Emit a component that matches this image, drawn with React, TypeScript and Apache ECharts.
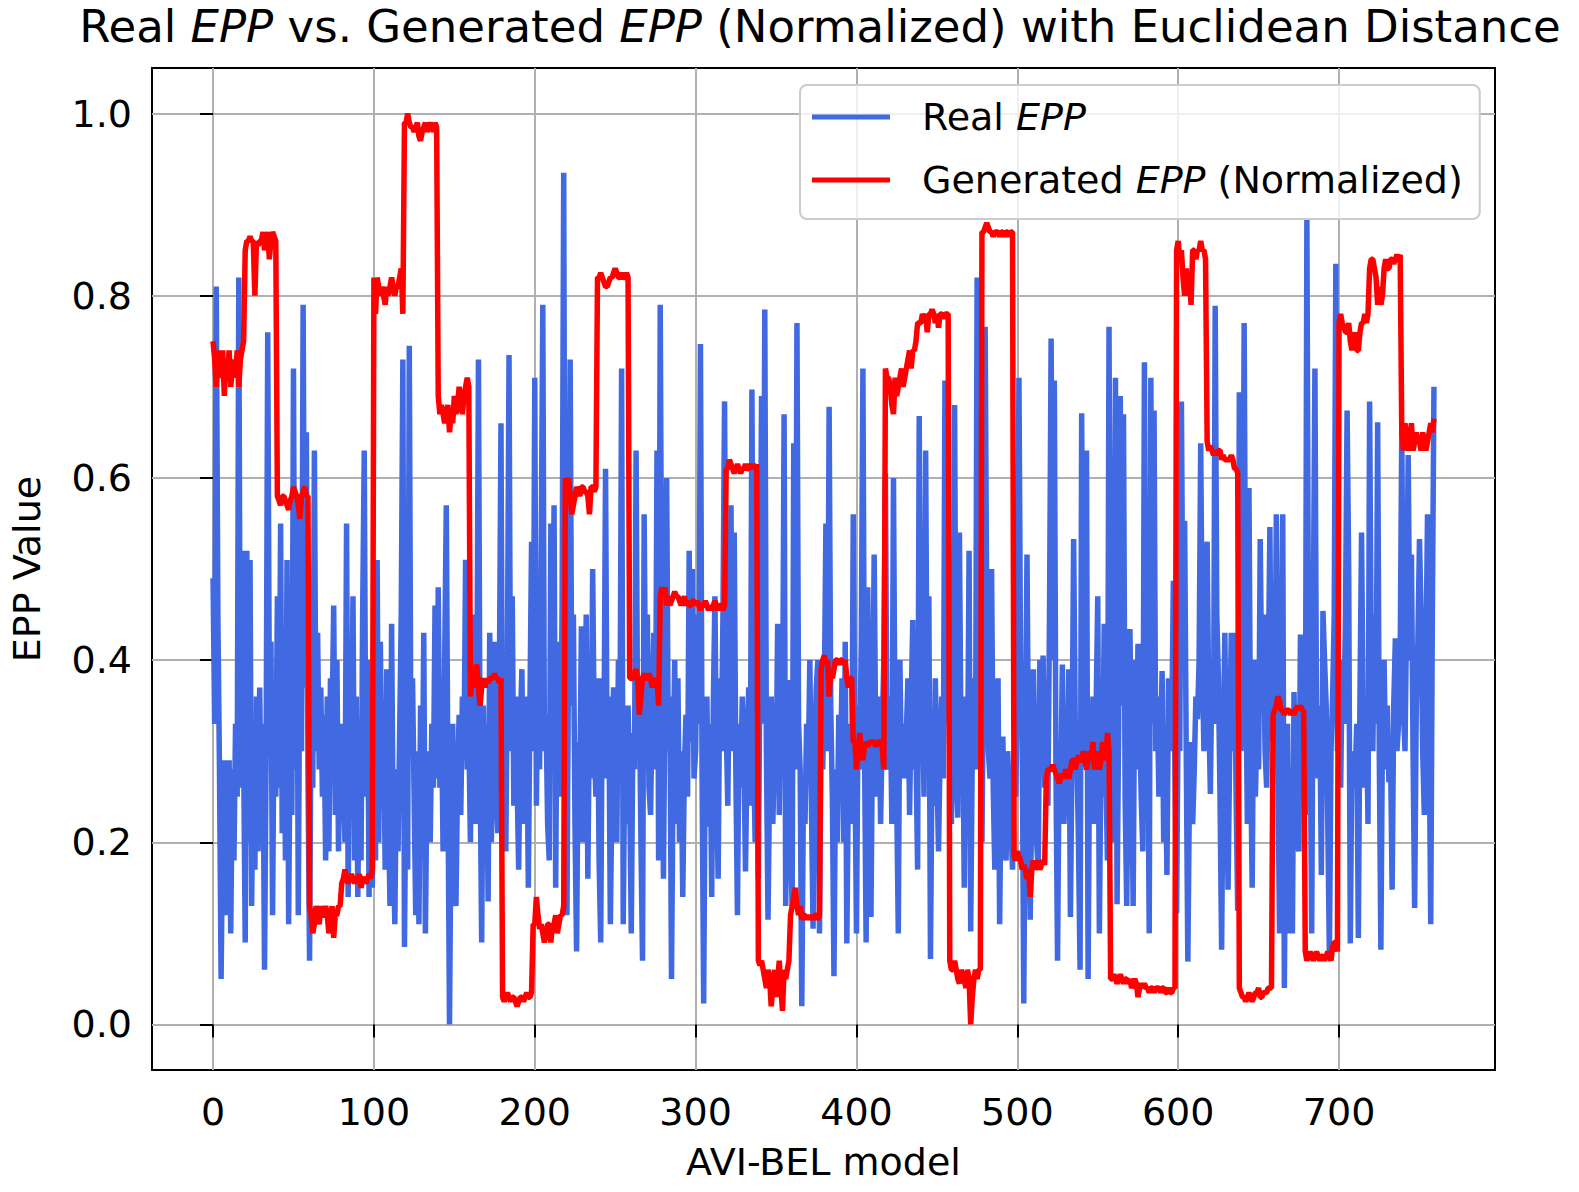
import React, { useEffect, useRef } from "react";
import * as echarts from "echarts";

const xTicks = [0, 100, 200, 300, 400, 500, 600, 700];
const yTicks = [0, 0.2, 0.4, 0.6, 0.8, 1.0];

// Real EPP (one value per model index 0..759)
const realEpp = [
  0.49,0.33,0.81,0.45,0.28,0.05,0.22,0.29,0.12,0.26,
  0.29,0.10,0.28,0.18,0.33,0.25,0.82,0.26,0.52,0.30,
  0.09,0.52,0.20,0.51,0.13,0.31,0.17,0.36,0.19,0.37,
  0.22,0.33,0.06,0.30,0.76,0.35,0.42,0.12,0.36,0.25,
  0.47,0.26,0.55,0.21,0.43,0.18,0.51,0.11,0.35,0.23,
  0.72,0.28,0.58,0.12,0.45,0.30,0.79,0.37,0.65,0.28,
  0.07,0.38,0.26,0.63,0.30,0.43,0.28,0.37,0.25,0.34,
  0.18,0.36,0.19,0.38,0.33,0.46,0.23,0.40,0.19,0.33,
  0.30,0.27,0.20,0.55,0.14,0.35,0.28,0.47,0.18,0.36,
  0.14,0.30,0.18,0.45,0.63,0.25,0.40,0.14,0.30,0.15,
  0.29,0.18,0.51,0.20,0.42,0.26,0.35,0.17,0.39,0.24,
  0.13,0.44,0.21,0.11,0.28,0.19,0.32,0.45,0.73,0.085,
  0.30,0.17,0.745,0.30,0.38,0.25,0.12,0.30,0.11,0.35,
  0.22,0.43,0.10,0.27,0.30,0.20,0.33,0.26,0.46,0.27,
  0.48,0.26,0.35,0.19,0.40,0.57,0.27,0.00,0.24,0.33,
  0.16,0.13,0.27,0.34,0.23,0.36,0.29,0.51,0.28,0.32,
  0.20,0.40,0.45,0.22,0.36,0.73,0.28,0.09,0.35,0.22,
  0.33,0.135,0.43,0.20,0.30,0.42,0.26,0.21,0.38,0.66,
  0.25,0.34,0.19,0.40,0.735,0.30,0.47,0.24,0.36,0.27,
  0.17,0.33,0.39,0.22,0.30,0.36,0.15,0.35,0.53,0.30,
  0.71,0.24,0.40,0.28,0.52,0.79,0.30,0.34,0.22,0.18,
  0.55,0.30,0.57,0.15,0.42,0.30,0.25,0.46,0.935,0.30,
  0.12,0.41,0.73,0.35,0.45,0.22,0.08,0.31,0.26,0.437,
  0.20,0.33,0.45,0.16,0.35,0.27,0.50,0.31,0.25,0.38,
  0.18,0.09,0.38,0.30,0.61,0.27,0.36,0.11,0.26,0.37,
  0.29,0.20,0.40,0.33,0.72,0.11,0.30,0.22,0.35,0.26,
  0.10,0.32,0.28,0.63,0.30,0.37,0.20,0.07,0.56,0.33,
  0.45,0.26,0.23,0.35,0.43,0.28,0.63,0.18,0.79,0.40,
  0.16,0.38,0.60,0.30,0.36,0.05,0.28,0.40,0.22,0.38,
  0.20,0.30,0.14,0.28,0.34,0.25,0.52,0.31,0.50,0.27,
  0.30,0.45,0.33,0.747,0.28,0.023,0.30,0.36,0.217,0.33,
  0.14,0.35,0.47,0.27,0.16,0.38,0.30,0.45,0.684,0.33,
  0.24,0.40,0.57,0.30,0.54,0.28,0.12,0.33,0.26,0.36,
  0.30,0.168,0.30,0.37,0.24,0.697,0.31,0.20,0.35,0.16,
  0.40,0.69,0.33,0.785,0.30,0.115,0.27,0.36,0.22,0.30,
  0.26,0.44,0.23,0.365,0.30,0.67,0.13,0.30,0.378,0.20,
  0.13,0.638,0.28,0.77,0.33,0.28,0.02,0.25,0.22,0.33,
  0.28,0.40,0.24,0.105,0.30,0.37,0.40,0.10,0.33,0.28,
  0.36,0.55,0.30,0.678,0.35,0.25,0.053,0.28,0.20,0.34,
  0.27,0.38,0.20,0.42,0.089,0.28,0.33,0.22,0.56,0.30,
  0.10,0.35,0.28,0.42,0.72,0.30,0.09,0.48,0.26,0.118,
  0.33,0.516,0.30,0.25,0.36,0.22,0.32,0.40,0.605,0.28,
  0.30,0.36,0.22,0.60,0.30,0.25,0.10,0.40,0.27,0.33,
  0.27,0.32,0.38,0.23,0.35,0.444,0.28,0.30,0.17,0.668,
  0.30,0.36,0.25,0.63,0.30,0.47,0.072,0.30,0.24,0.38,
  0.28,0.19,0.30,0.36,0.27,0.707,0.33,0.40,0.30,0.22,
  0.35,0.68,0.28,0.227,0.54,0.30,0.36,0.15,0.33,0.26,
  0.52,0.102,0.30,0.38,0.28,0.82,0.35,0.30,0.20,0.40,
  0.766,0.44,0.30,0.27,0.50,0.26,0.17,0.33,0.38,0.11,
  0.28,0.316,0.20,0.18,0.30,0.25,0.22,0.17,0.30,0.25,
  0.36,0.71,0.40,0.33,0.023,0.30,0.516,0.28,0.115,0.25,
  0.39,0.27,0.20,0.17,0.40,0.30,0.405,0.26,0.30,0.24,
  0.45,0.753,0.40,0.707,0.28,0.07,0.30,0.26,0.395,0.22,
  0.30,0.25,0.39,0.118,0.30,0.533,0.33,0.30,0.20,0.06,
  0.671,0.30,0.40,0.63,0.05,0.33,0.26,0.36,0.22,0.35,
  0.47,0.10,0.30,0.25,0.44,0.28,0.18,0.766,0.30,0.20,
  0.38,0.71,0.132,0.33,0.69,0.35,0.67,0.25,0.13,0.30,
  0.434,0.30,0.13,0.40,0.28,0.418,0.33,0.25,0.19,0.727,
  0.30,0.35,0.10,0.71,0.33,0.674,0.30,0.36,0.25,0.30,
  0.388,0.20,0.30,0.164,0.38,0.30,0.33,0.487,0.28,0.122,
  0.35,0.30,0.684,0.40,0.553,0.30,0.069,0.26,0.31,0.22,
  0.28,0.36,0.335,0.40,0.638,0.40,0.30,0.48,0.53,0.35,
  0.253,0.40,0.33,0.789,0.45,0.38,0.25,0.082,0.30,0.43,
  0.28,0.148,0.30,0.43,0.30,0.43,0.25,0.125,0.694,0.30,
  0.36,0.77,0.40,0.22,0.589,0.30,0.15,0.40,0.25,0.33,
  0.28,0.533,0.36,0.45,0.30,0.26,0.38,0.546,0.31,0.36,
  0.30,0.56,0.28,0.10,0.35,0.56,0.04,0.30,0.33,0.10,
  0.28,0.10,0.365,0.25,0.20,0.19,0.428,0.28,0.30,0.23,
  0.885,0.40,0.35,0.10,0.45,0.72,0.33,0.27,0.35,0.164,
  0.454,0.40,0.35,0.22,0.076,0.30,0.36,0.45,0.835,0.30,
  0.35,0.26,0.40,0.33,0.45,0.674,0.50,0.089,0.30,0.26,
  0.27,0.33,0.095,0.36,0.54,0.33,0.26,0.35,0.22,0.684,
  0.40,0.30,0.45,0.33,0.661,0.30,0.082,0.33,0.40,0.28,
  0.35,0.266,0.30,0.148,0.35,0.424,0.30,0.33,0.40,0.655,
  0.35,0.30,0.45,0.625,0.40,0.516,0.30,0.128,0.35,0.42,
  0.533,0.45,0.30,0.23,0.40,0.56,0.33,0.11,0.45,0.70,
];

// Generated EPP (Normalized), one value per model index 0..759
const generatedEpp = [
  0.75,0.73,0.70,0.74,0.72,0.71,0.74,0.69,0.73,0.71,0.74,0.70,0.72,0.73,0.71,0.74,0.70,0.73,0.74,0.75,
  0.85,0.86,0.86,0.865,0.86,0.86,0.80,0.86,0.855,0.86,0.86,0.87,0.85,0.86,0.87,0.84,0.86,0.87,0.865,0.86,
  0.58,0.575,0.57,0.58,0.58,0.575,0.57,0.565,0.575,0.58,0.59,0.585,0.58,0.57,0.555,0.58,0.585,0.59,0.58,0.58,
  0.13,0.12,0.10,0.11,0.13,0.12,0.11,0.13,0.12,0.12,0.13,0.12,0.10,0.11,0.13,0.095,0.12,0.12,0.13,0.13,
  0.155,0.16,0.17,0.16,0.155,0.16,0.165,0.16,0.155,0.16,0.16,0.165,0.15,0.16,0.16,0.155,0.16,0.165,0.16,0.17,
  0.82,0.78,0.82,0.81,0.80,0.81,0.80,0.79,0.81,0.80,0.81,0.82,0.81,0.80,0.81,0.81,0.82,0.83,0.78,0.99,
  0.99,1.00,0.99,0.985,0.985,0.98,0.985,0.99,0.975,0.97,0.98,0.985,0.99,0.98,0.985,0.99,0.985,0.98,0.99,0.985,
  0.69,0.67,0.68,0.67,0.66,0.67,0.68,0.65,0.67,0.66,0.69,0.67,0.68,0.70,0.68,0.67,0.69,0.70,0.71,0.70,
  0.36,0.38,0.37,0.39,0.395,0.37,0.35,0.37,0.38,0.37,0.38,0.375,0.38,0.38,0.38,0.385,0.38,0.38,0.375,0.38,
  0.03,0.025,0.03,0.035,0.03,0.025,0.03,0.03,0.025,0.02,0.025,0.03,0.03,0.025,0.03,0.035,0.03,0.03,0.035,0.11,
  0.11,0.14,0.12,0.105,0.11,0.10,0.09,0.10,0.11,0.11,0.09,0.11,0.11,0.12,0.10,0.11,0.12,0.12,0.13,0.60,
  0.59,0.60,0.58,0.56,0.57,0.58,0.59,0.585,0.58,0.59,0.59,0.585,0.585,0.58,0.56,0.59,0.59,0.585,0.59,0.82,
  0.82,0.825,0.82,0.815,0.81,0.81,0.815,0.82,0.82,0.825,0.83,0.825,0.82,0.82,0.825,0.82,0.82,0.825,0.82,0.38,
  0.38,0.38,0.385,0.39,0.38,0.34,0.36,0.38,0.385,0.38,0.38,0.385,0.38,0.37,0.38,0.375,0.38,0.35,0.47,0.48,
  0.47,0.48,0.46,0.47,0.46,0.465,0.47,0.475,0.47,0.47,0.465,0.46,0.465,0.47,0.46,0.465,0.46,0.46,0.465,0.465,
  0.46,0.465,0.46,0.455,0.46,0.46,0.465,0.46,0.455,0.46,0.455,0.46,0.465,0.46,0.455,0.46,0.46,0.455,0.46,0.61,
  0.61,0.62,0.615,0.61,0.605,0.61,0.615,0.61,0.605,0.61,0.61,0.615,0.61,0.61,0.615,0.61,0.615,0.61,0.615,0.07,
  0.065,0.07,0.06,0.05,0.04,0.06,0.05,0.02,0.04,0.06,0.03,0.05,0.07,0.04,0.015,0.06,0.05,0.06,0.07,0.12,
  0.13,0.14,0.15,0.13,0.12,0.13,0.115,0.12,0.12,0.115,0.12,0.115,0.12,0.115,0.12,0.12,0.115,0.12,0.39,0.40,
  0.405,0.395,0.40,0.36,0.39,0.38,0.39,0.40,0.40,0.395,0.40,0.40,0.395,0.40,0.38,0.37,0.38,0.38,0.31,0.31,
  0.28,0.30,0.32,0.30,0.29,0.305,0.31,0.305,0.31,0.31,0.31,0.31,0.305,0.31,0.31,0.31,0.305,0.28,0.72,0.71,
  0.71,0.70,0.68,0.67,0.71,0.69,0.70,0.71,0.72,0.70,0.71,0.72,0.73,0.74,0.72,0.74,0.74,0.75,0.77,0.77,
  0.77,0.78,0.775,0.78,0.76,0.78,0.78,0.785,0.78,0.77,0.78,0.765,0.78,0.78,0.775,0.78,0.78,0.78,0.07,0.06,
  0.06,0.07,0.06,0.05,0.045,0.06,0.055,0.05,0.04,0.06,0.05,0.00,0.03,0.05,0.06,0.05,0.06,0.06,0.87,0.87,
  0.875,0.88,0.875,0.87,0.87,0.865,0.87,0.87,0.87,0.865,0.87,0.87,0.865,0.87,0.87,0.865,0.87,0.87,0.185,0.18,
  0.19,0.185,0.18,0.17,0.175,0.17,0.16,0.17,0.14,0.17,0.18,0.17,0.175,0.18,0.17,0.175,0.18,0.175,0.27,0.28,
  0.28,0.28,0.285,0.28,0.275,0.27,0.265,0.27,0.275,0.27,0.28,0.275,0.27,0.28,0.29,0.29,0.28,0.29,0.295,0.29,
  0.29,0.30,0.29,0.28,0.29,0.30,0.29,0.31,0.28,0.29,0.30,0.28,0.29,0.31,0.30,0.29,0.32,0.30,0.05,0.05,
  0.055,0.05,0.045,0.05,0.055,0.05,0.045,0.05,0.05,0.045,0.05,0.04,0.045,0.05,0.045,0.03,0.04,0.045,0.04,0.045,
  0.04,0.04,0.035,0.04,0.04,0.035,0.04,0.04,0.04,0.035,0.04,0.04,0.035,0.035,0.04,0.035,0.035,0.04,0.04,0.85,
  0.86,0.84,0.85,0.82,0.80,0.83,0.80,0.82,0.79,0.85,0.85,0.84,0.85,0.85,0.86,0.85,0.85,0.84,0.64,0.63,
  0.635,0.63,0.625,0.63,0.625,0.63,0.63,0.62,0.625,0.62,0.62,0.62,0.62,0.625,0.62,0.61,0.61,0.605,0.04,0.035,
  0.03,0.03,0.025,0.03,0.035,0.03,0.025,0.03,0.035,0.035,0.04,0.03,0.03,0.035,0.035,0.035,0.04,0.04,0.04,0.34,
  0.345,0.35,0.36,0.355,0.345,0.345,0.34,0.345,0.345,0.345,0.34,0.345,0.34,0.345,0.35,0.345,0.35,0.345,0.345,0.08,
  0.07,0.075,0.08,0.075,0.07,0.075,0.08,0.075,0.07,0.075,0.075,0.07,0.075,0.08,0.075,0.07,0.085,0.09,0.09,0.08,
  0.77,0.78,0.77,0.765,0.76,0.76,0.77,0.75,0.74,0.75,0.76,0.74,0.74,0.76,0.77,0.77,0.78,0.77,0.78,0.83,
  0.84,0.84,0.83,0.82,0.79,0.81,0.79,0.80,0.83,0.84,0.83,0.83,0.84,0.84,0.835,0.84,0.845,0.84,0.845,0.65,
  0.63,0.66,0.64,0.63,0.645,0.66,0.63,0.64,0.65,0.64,0.64,0.63,0.65,0.64,0.63,0.64,0.65,0.66,0.65,0.665,
];

const seriesNames = ["Real EPP", "Generated EPP (Normalized)"];

export default function App() {
  const ref = useRef<HTMLDivElement>(null);

  useEffect(() => {
    if (!ref.current) return;
    const chart = echarts.init(ref.current, null, { renderer: "svg" });
    const font = "DejaVu Sans";
    const tickFont = 38;
    chart.setOption({
      animation: false,
      backgroundColor: "#ffffff",
      graphic: [
        {
          type: "text",
          x: 820,
          y: 3,
          style: {
            text: "{n|Real }{i|EPP}{n| vs. Generated }{i|EPP}{n| (Normalized) with Euclidean Distance}",
            align: "center",
            verticalAlign: "top",
            fill: "#000",
            font: `45px '${font}'`,
            rich: {
              n: { fontFamily: font, fontSize: 45, fill: "#000", lineHeight: 46 },
              i: { fontFamily: font, fontSize: 45, fontStyle: "italic", fill: "#000", lineHeight: 46 },
            },
          },
        },
      ],
      legend: {
        data: seriesNames,
        orient: "vertical",
        left: 800,
        top: 85,
        padding: [9, 17, 16, 12],
        itemGap: 17,
        itemWidth: 78,
        itemHeight: 5,
        icon: "rect",
        backgroundColor: "rgba(255,255,255,0.8)",
        borderColor: "#cccccc",
        borderWidth: 2,
        borderRadius: 7,
        formatter: (name: string) =>
          name === "Real EPP"
            ? "{f|Real }{i|EPP}"
            : "{f|Generated }{i|EPP}{n| (Normalized)}",
        textStyle: {
          fontFamily: font,
          fontSize: tickFont,
          color: "#000",
          lineHeight: 46,
          rich: {
            f: { fontFamily: font, fontSize: tickFont, color: "#000", lineHeight: 46, padding: [0, 0, 0, 27] },
            n: { fontFamily: font, fontSize: tickFont, color: "#000", lineHeight: 46 },
            i: { fontFamily: font, fontSize: tickFont, fontStyle: "italic", color: "#000", lineHeight: 46 },
          },
        },
      },
      grid: {
        left: 145,
        top: 68,
        width: 1350,
        height: 1002,
        show: true,
        borderColor: "#000",
        borderWidth: 2,
        backgroundColor: "transparent",
        containLabel: false,
      },
      xAxis: {
        type: "value",
        min: -37.95,
        max: 796.95,
        name: "AVI-BEL model",
        nameLocation: "middle",
        nameGap: 73,
        nameTextStyle: { fontFamily: font, fontSize: tickFont, color: "#000" },
        axisLine: { show: false },
        axisTick: {
          show: true,
          inside: false,
          length: 13,
          lineStyle: { color: "#000", width: 2 },
          customValues: xTicks,
        },
        axisLabel: {
          customValues: xTicks,
          fontFamily: font,
          fontSize: tickFont,
          color: "#000",
          margin: 23,
        },
        splitLine: { show: true, lineStyle: { color: "#b0b0b0", width: 2 } },
      },
      yAxis: {
        type: "value",
        min: -0.05,
        max: 1.05,
        name: "EPP Value",
        nameLocation: "middle",
        nameGap: 106,
        nameTextStyle: { fontFamily: font, fontSize: tickFont, color: "#000" },
        axisLine: { show: false },
        axisTick: {
          show: true,
          inside: false,
          length: 13,
          lineStyle: { color: "#000", width: 2 },
          customValues: yTicks,
        },
        axisLabel: {
          customValues: yTicks,
          fontFamily: font,
          fontSize: tickFont,
          color: "#000",
          margin: 20,
          formatter: (v: number) => v.toFixed(1),
        },
        splitLine: { show: true, lineStyle: { color: "#b0b0b0", width: 2 } },
      },
      series: [
        {
          name: seriesNames[0],
          type: "line",
          symbol: "none",
          showSymbol: false,
          data: realEpp.map((v, i) => [i, v]),
          lineStyle: { color: "#4169e1", width: 5.5 },
          itemStyle: { color: "#4169e1" },
          z: 2,
        },
        {
          name: seriesNames[1],
          type: "line",
          symbol: "none",
          showSymbol: false,
          data: generatedEpp.map((v, i) => [i, v]),
          lineStyle: { color: "#ff0000", width: 5.5 },
          itemStyle: { color: "#ff0000" },
          z: 3,
        },
      ],
    });
    return () => chart.dispose();
  }, []);

  return (
    <div
      ref={ref}
      style={{ position: "absolute", left: 0, top: 0, width: 1579, height: 1192, background: "#fff" }}
    />
  );
}
